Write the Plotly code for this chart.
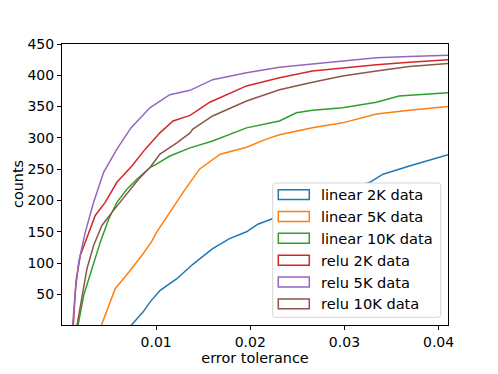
import plotly.graph_objects as go

# series (error tolerance, cumulative count)
lin2k_x = [0.00732, 0.00862, 0.00937, 0.0104, 0.0122, 0.0139, 0.016, 0.0178, 0.0196, 0.0208, 0.0222, 0.027, 0.0327, 0.0341, 0.0369, 0.0404, 0.041]
lin2k_y = [0, 22, 38, 56, 75, 98, 123, 139, 150, 162, 170, 200, 229, 242, 255, 271, 273]

lin5k_x = [0.00417, 0.00565, 0.00707, 0.00848, 0.00947, 0.01004, 0.01145, 0.01286, 0.0146, 0.0168, 0.0196, 0.0217, 0.0231, 0.0266, 0.0298, 0.0334, 0.0369, 0.041]
lin5k_y = [0, 59, 85, 112, 133, 149, 181, 213, 250, 274, 285, 298, 305, 316, 324, 338, 344, 350]

lin10k_x = [0.0017, 0.0023, 0.00318, 0.00406, 0.00495, 0.00583, 0.00689, 0.00795, 0.00937, 0.01004, 0.01145, 0.0136, 0.016, 0.0196, 0.0231, 0.0249, 0.0266, 0.0298, 0.0334, 0.0358, 0.041]
lin10k_y = [0, 48, 91, 133, 170, 197, 218, 234, 253, 258, 271, 284, 295, 316, 327, 340, 344, 348, 357, 367, 372]

relu2k_x = [0.0012, 0.00148, 0.00194, 0.00283, 0.00353, 0.00459, 0.00583, 0.00742, 0.00884, 0.0104, 0.0118, 0.0136, 0.0157, 0.0196, 0.0231, 0.0266, 0.0298, 0.0334, 0.0369, 0.041]
relu2k_y = [0, 70, 112, 149, 176, 197, 229, 255, 282, 308, 327, 336, 357, 383, 396, 407, 412, 417, 421, 425]

relu5k_x = [0.00113, 0.00141, 0.00177, 0.00247, 0.00336, 0.00442, 0.00583, 0.00732, 0.00933, 0.01145, 0.0136, 0.016, 0.0196, 0.0231, 0.0266, 0.0295, 0.0334, 0.0369, 0.041]
relu5k_y = [0, 54, 101, 149, 197, 245, 282, 316, 348, 369, 376, 393, 404, 413, 418, 422, 428, 430, 432]

relu10k_x = [0.00159, 0.00212, 0.00265, 0.00336, 0.00424, 0.0053, 0.00672, 0.00813, 0.00937, 0.0104, 0.0122, 0.0136, 0.0139, 0.016, 0.0196, 0.0231, 0.0266, 0.0298, 0.0334, 0.0369, 0.041]
relu10k_y = [0, 43, 91, 128, 160, 181, 207, 234, 253, 274, 292, 308, 314, 335, 359, 377, 389, 399, 407, 414, 419]

labels = ["linear 2K data", "linear 5K data", "linear 10K data", "relu 2K data", "relu 5K data", "relu 10K data"]
colors = ["#1f77b4", "#ff7f0e", "#2ca02c", "#d62728", "#9467bd", "#8c564b"]
series = [(lin2k_x, lin2k_y), (lin5k_x, lin5k_y), (lin10k_x, lin10k_y),
          (relu2k_x, relu2k_y), (relu5k_x, relu5k_y), (relu10k_x, relu10k_y)]

# the page body adds an 8px offset, so the figure is a bit smaller than the window
OFF = 8
W, H = 498 - OFF, 374 - OFF
L, R, T, B = 62, 448, 44, 327  # plot area in window pixels


def px(x):
    return (x - L) / (R - L)


def py(y):
    return (B - y) / (B - T)


fig = go.Figure()
for (xs, ys), name, c in zip(series, labels, colors):
    fig.add_trace(go.Scatter(x=xs, y=ys, mode="lines", name=name,
                             line=dict(color=c, width=1.5), showlegend=False))

# matplotlib-style legend: rounded frame, outlined patches
x0, x1, y0, y1, r = 272.7, 440.7, 184, 319.3, 3
frame = (f"M {px(x0 + r)},{py(y0)} L {px(x1 - r)},{py(y0)} Q {px(x1)},{py(y0)} {px(x1)},{py(y0 + r)} "
         f"L {px(x1)},{py(y1 - r)} Q {px(x1)},{py(y1)} {px(x1 - r)},{py(y1)} "
         f"L {px(x0 + r)},{py(y1)} Q {px(x0)},{py(y1)} {px(x0)},{py(y1 - r)} "
         f"L {px(x0)},{py(y0 + r)} Q {px(x0)},{py(y0)} {px(x0 + r)},{py(y0)} Z")
shapes = [dict(type="path", xref="paper", yref="paper", path=frame,
               line=dict(color="#d6d6d6", width=1), fillcolor="white")]
annotations = []
for i, (name, c) in enumerate(zip(labels, colors)):
    yc = 195.7 + 22 * i
    shapes.append(dict(type="rect", xref="paper", yref="paper",
                       x0=px(278.3), x1=px(309.3), y0=py(yc + 5), y1=py(yc - 5),
                       line=dict(color=c, width=1.5), fillcolor="rgba(0,0,0,0)"))
    annotations.append(dict(text=name, xref="paper", yref="paper", x=px(318.5), y=py(yc),
                            xanchor="left", yanchor="middle", showarrow=False,
                            font=dict(size=14.6, color="black")))

# y axis title placed like matplotlib's
annotations.append(dict(text="counts", xref="paper", yref="paper", x=px(17.5), y=py(185.5),
                        xanchor="center", yanchor="middle", textangle=-90, showarrow=False,
                        font=dict(size=14.4, color="black")))

axis_common = dict(showline=True, linecolor="black", linewidth=1, mirror=True,
                   ticks="outside", ticklen=4, tickcolor="black", showgrid=False,
                   zeroline=False, tickfont=dict(size=14, color="black"))

fig.update_layout(
    width=W, height=H,
    margin=dict(l=L - OFF, r=W - (R - OFF), t=T - OFF, b=H - (B - OFF)),
    paper_bgcolor="white", plot_bgcolor="white",
    font=dict(family="DejaVu Sans", color="black"),
    xaxis=dict(range=[0.0, 0.041], tickvals=[0.01, 0.02, 0.03, 0.04],
               title=dict(text="error tolerance", font=dict(size=14.4), standoff=2),
               **axis_common),
    yaxis=dict(range=[1, 450], tickvals=[50, 100, 150, 200, 250, 300, 350, 400, 450],
               **axis_common),
    shapes=shapes, annotations=annotations,
)

fig.write_html("out.html")
